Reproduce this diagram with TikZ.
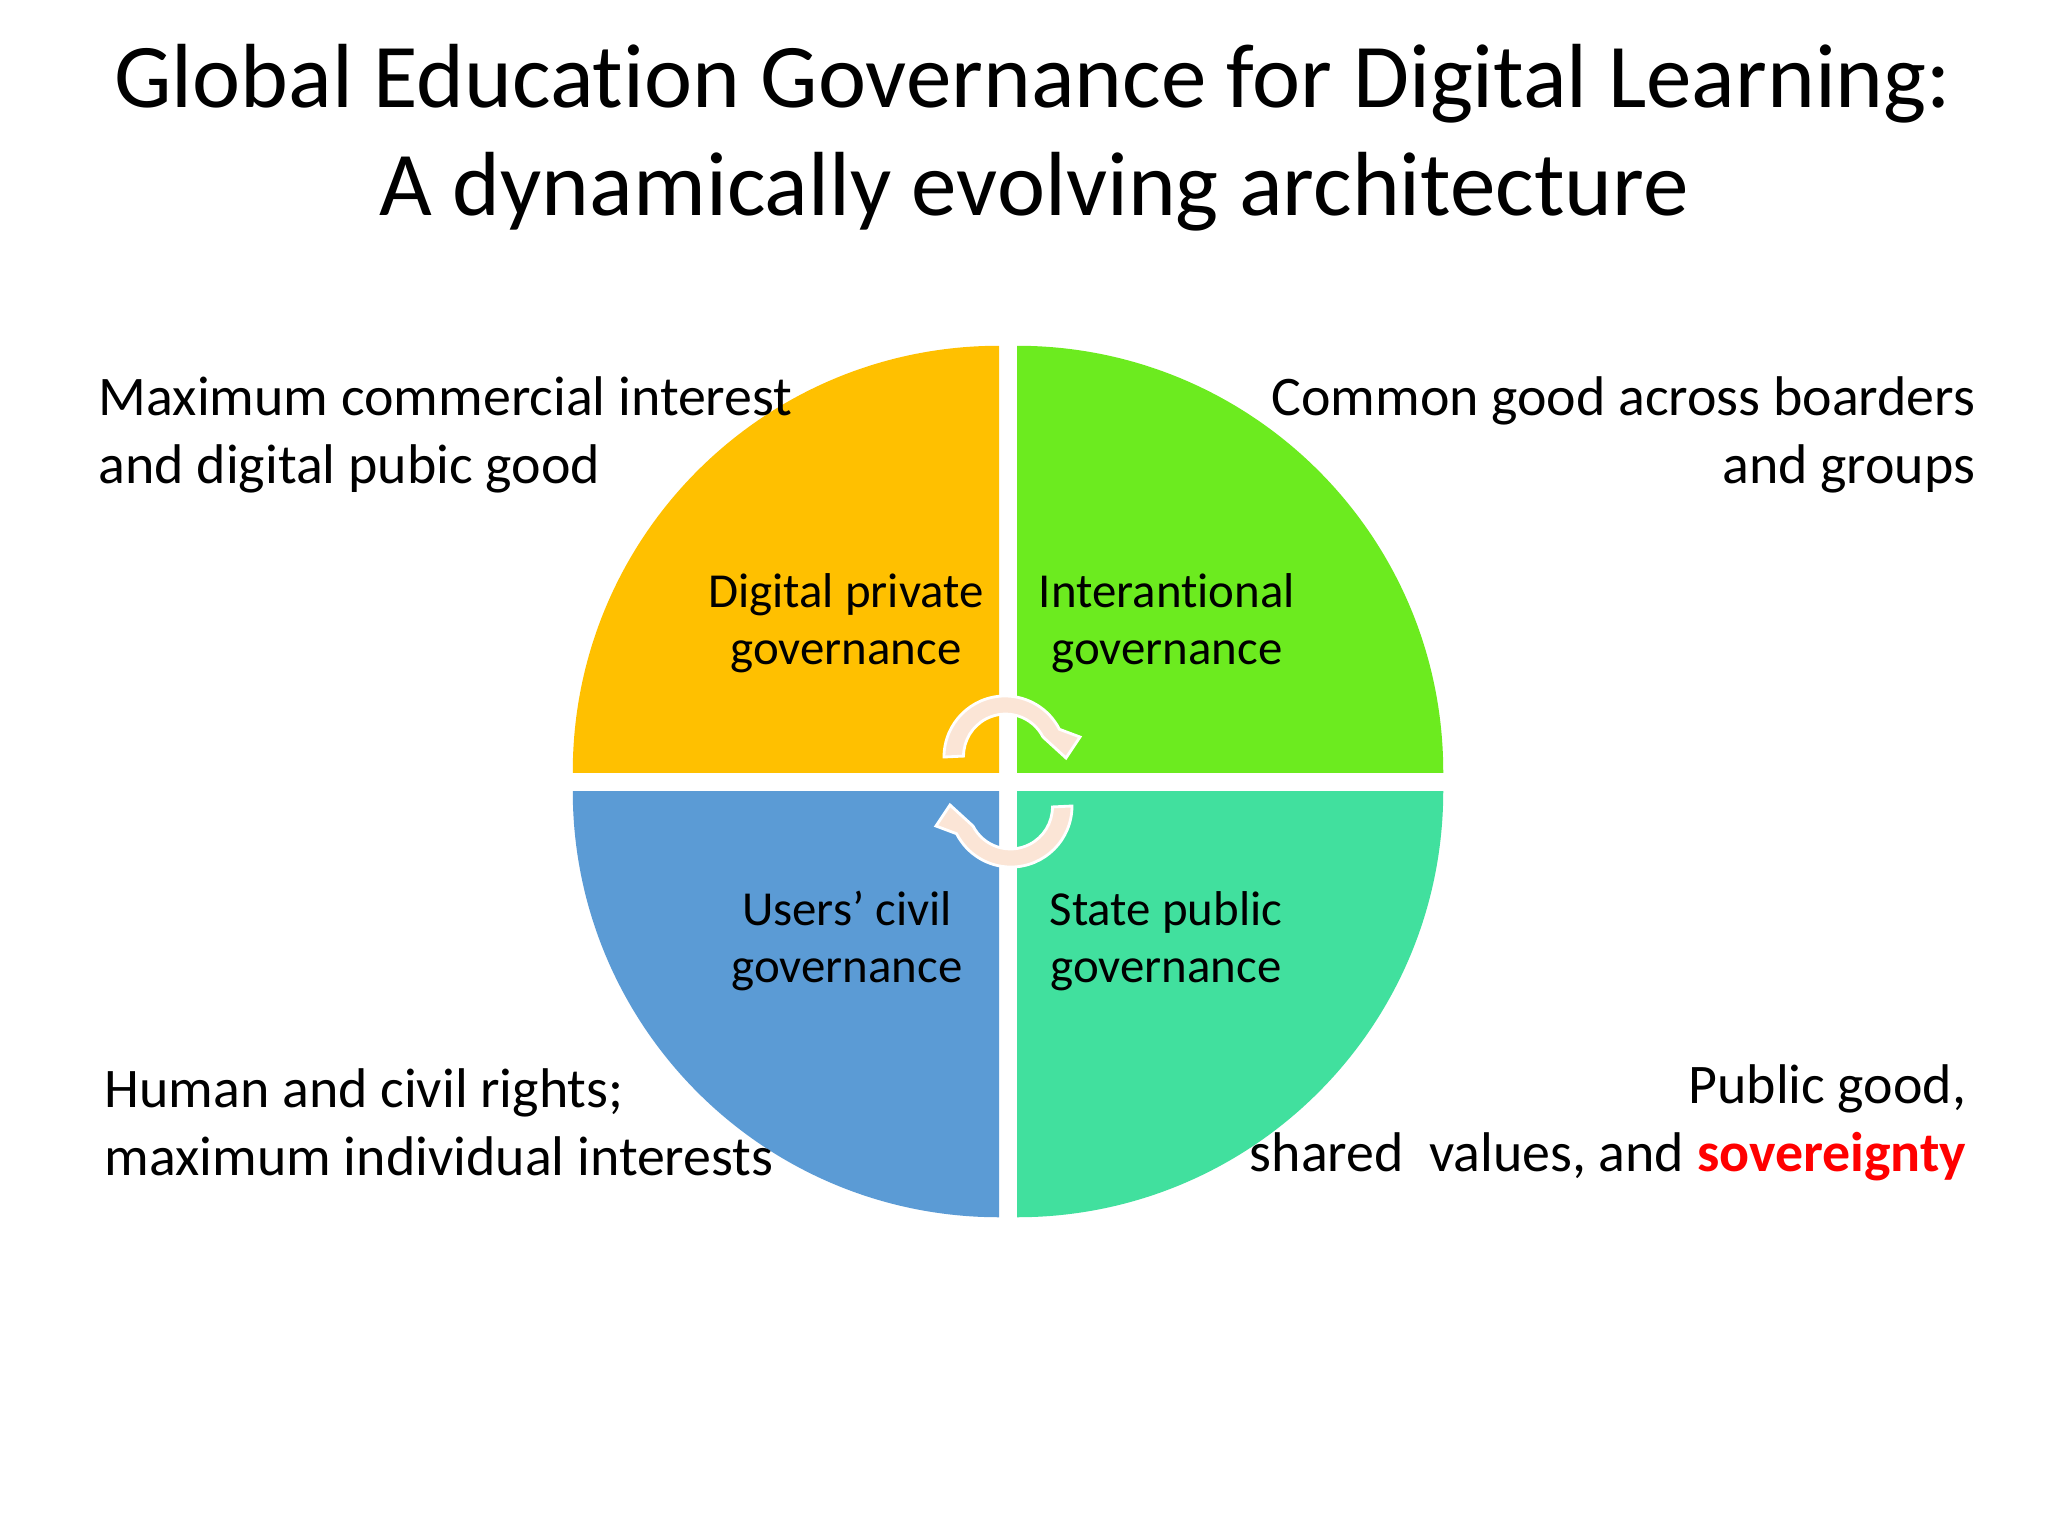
\documentclass[tikz,border=0pt]{standalone}
\usepackage{fontspec}
\setmainfont{Carlito}[Ligatures=NoCommon]
\definecolor{qyellow}{RGB}{255,192,0}
\definecolor{qgreen}{RGB}{108,235,31}
\definecolor{qblue}{RGB}{91,155,213}
\definecolor{qteal}{RGB}{65,224,158}
\definecolor{arrowfill}{RGB}{251,229,214}
\definecolor{sovred}{RGB}{255,0,0}
\tikzset{
  titletext/.style={inner sep=0pt, align=center, font=\fontsize{25.9pt}{30.7pt}\selectfont},
  cornertext/.style={inner sep=0pt, font=\fontsize{15.9pt}{19.3pt}\selectfont},
  quadtext/.style={inner sep=0pt, align=center, font=\fontsize{13.9pt}{16.2pt}\selectfont},
  cyclearrow/.style={fill=arrowfill, draw=white, line width=0.8pt, line join=miter}
}
\begin{document}
\begin{tikzpicture}[x=0.01cm, y=0.01cm]
\useasboundingbox[fill=white] (0,0) rectangle (2048,-1536);

% quadrants
\begin{scope}
  \clip (0,-772) rectangle (999,0);
  \fill[qyellow] (999,-772) circle[radius=4.26cm];
\end{scope}
\begin{scope}
  \clip (1017,-772) rectangle (2048,0);
  \fill[qgreen] (1017,-772) circle[radius=4.26cm];
\end{scope}
\begin{scope}
  \clip (0,-791) rectangle (999,-1536);
  \fill[qblue] (999,-791) circle[radius=4.26cm];
\end{scope}
\begin{scope}
  \clip (1017,-791) rectangle (2048,-1536);
  \fill[qteal] (1017,-791) circle[radius=4.26cm];
\end{scope}

% cycle arrows
\path[cyclearrow] (944,-757) arc[start angle=180, end angle=27, radius=0.61cm]
  -- (1080,-737) -- (1066,-758) -- (1043,-737)
  arc[start angle=27, end angle=180, radius=0.42cm] -- cycle;
\begin{scope}[rotate around={180:(1008,-781.5)}]
\path[cyclearrow] (944,-757) arc[start angle=180, end angle=27, radius=0.61cm]
  -- (1080,-737) -- (1066,-758) -- (1043,-737)
  arc[start angle=27, end angle=180, radius=0.42cm] -- cycle;
\end{scope}

% title
\node[titletext, anchor=base] (title1) at (1033,-107) {Global Education Governance for Digital Learning:};
\node[titletext, anchor=base] (title2) at (1034,-215) {A dynamically evolving architecture};

% quadrant labels (anchor = baseline of last line)
\node[quadtext, anchor=base] (privlabel) at (846,-664) {Digital private\\governance};
\node[quadtext, anchor=base] (intlabel) at (1167,-664) {Interantional\\governance};
\node[quadtext, anchor=base] (civlabel) at (847,-982) {Users’ civil\\governance};
\node[quadtext, anchor=base] (statelabel) at (1166,-982) {State public\\governance};

% corner texts (anchor = baseline of last line)
\node[cornertext, align=left, anchor=base west] (tl) at (98,-483) {Maximum commercial interest\\and digital pubic good};
\node[cornertext, align=right, anchor=base east] (tr) at (1976,-483) {Common good across boarders\\and groups};
\node[cornertext, align=left, anchor=base west] (bl) at (104,-1175) {Human and civil rights;\\maximum individual interests};
\node[cornertext, align=right, anchor=base east] (br) at (1967,-1171) {Public good,\\shared\ \ values, and \textcolor{sovred}{\bfseries sovereignty}};
\end{tikzpicture}
\end{document}
